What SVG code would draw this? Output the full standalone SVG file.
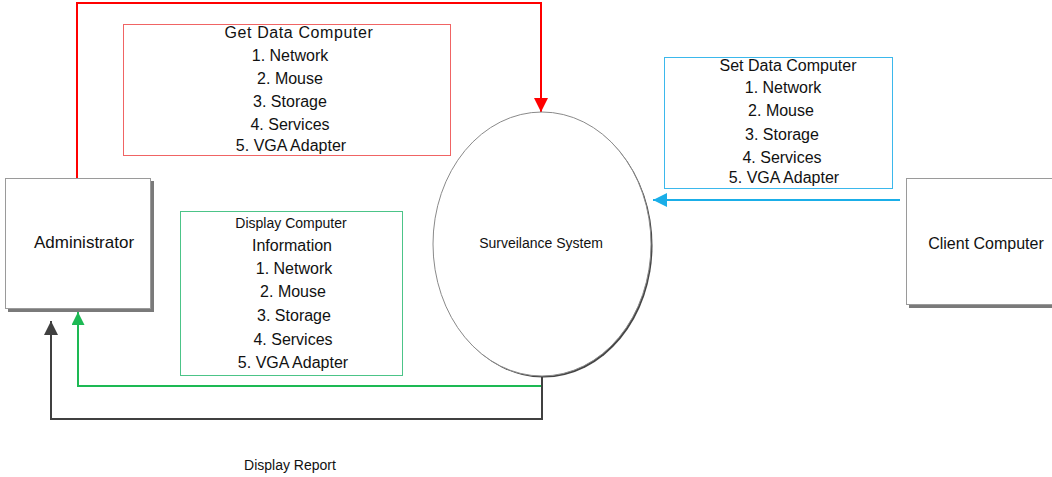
<svg xmlns="http://www.w3.org/2000/svg" width="1052" height="477" viewBox="0 0 1052 477">
<defs>
<style>
text{font-family:"Liberation Sans",Arial,sans-serif;fill:#111;text-anchor:middle;}
.t17{font-size:17px;}
.t16{font-size:16px;}
.t15{font-size:15px;}
.t14{font-size:14px;}
.box{fill:#fff;stroke:#9a9a9a;stroke-width:1;}
.shadow{fill:#7a7a7a;}
.conn{fill:none;stroke-width:2;}
</style>
<marker id="arR" viewBox="0 0 10 10" refX="10" refY="5" markerWidth="14" markerHeight="14" markerUnits="userSpaceOnUse" orient="auto"><path d="M0,0 L10,5 L0,10 z" fill="#ff0000"/></marker>
<marker id="arB" viewBox="0 0 10 10" refX="10" refY="5" markerWidth="14" markerHeight="14" markerUnits="userSpaceOnUse" orient="auto"><path d="M0,0 L10,5 L0,10 z" fill="#1aaee8"/></marker>
<marker id="arG" viewBox="0 0 10 10" refX="10" refY="5" markerWidth="13" markerHeight="13" markerUnits="userSpaceOnUse" orient="auto"><path d="M0,0 L10,5 L0,10 z" fill="#1db954"/></marker>
<marker id="arK" viewBox="0 0 10 10" refX="10" refY="5" markerWidth="14" markerHeight="14" markerUnits="userSpaceOnUse" orient="auto"><path d="M0,0 L10,5 L0,10 z" fill="#404040"/></marker>
</defs>
<rect width="1052" height="477" fill="#fff"/>

<g id="connectors">
<polyline class="conn" stroke="#ff0000" points="77,178 77,3 541,3 541,112" marker-end="url(#arR)"/>
<polyline class="conn" stroke="#1aaee8" stroke-width="2.5" points="900,200 653,200" marker-end="url(#arB)"/>
<polyline class="conn" stroke="#1db954" points="542,386 78,386 78,312" marker-end="url(#arG)"/>
<polyline class="conn" stroke="#404040" points="542,376 542,419 51,419 51,321" marker-end="url(#arK)"/>
</g>

<g id="get-data">
<rect x="123.5" y="24.5" width="327" height="131" fill="none" stroke="#f06464" stroke-width="1"/>
<text class="t16" x="299" y="38" letter-spacing="0.6">Get Data Computer</text>
<text class="t16" x="290" y="61">1. Network</text>
<text class="t16" x="290" y="84">2. Mouse</text>
<text class="t16" x="290" y="107">3. Storage</text>
<text class="t16" x="290" y="130">4. Services</text>
<text class="t16" x="291" y="151">5. VGA Adapter</text>
</g>

<g id="set-data">
<rect x="664.5" y="57.5" width="228" height="131" fill="none" stroke="#3bb8ec" stroke-width="1"/>
<text class="t16" x="788" y="71">Set Data Computer</text>
<text class="t16" x="783" y="93">1. Network</text>
<text class="t16" x="781" y="116">2. Mouse</text>
<text class="t16" x="782" y="140">3. Storage</text>
<text class="t16" x="782" y="163">4. Services</text>
<text class="t16" x="784" y="183">5. VGA Adapter</text>
</g>

<g id="display-info">
<rect x="180.5" y="211.5" width="222" height="164" fill="none" stroke="#4cc488" stroke-width="1"/>
<text class="t14" x="291" y="228">Display Computer</text>
<text class="t16" x="292" y="251">Information</text>
<text class="t16" x="294" y="274">1. Network</text>
<text class="t16" x="293" y="297">2. Mouse</text>
<text class="t16" x="294" y="321">3. Storage</text>
<text class="t16" x="293" y="345">4. Services</text>
<text class="t16" x="293" y="368">5. VGA Adapter</text>
</g>

<g id="administrator">
<rect class="shadow" x="8" y="181" width="146" height="131"/>
<rect class="box" x="5.5" y="178.5" width="145" height="130"/>
<text class="t17" x="84" y="248">Administrator</text>
</g>

<g id="client-computer">
<rect class="shadow" x="909" y="181" width="146" height="127"/>
<rect class="box" x="906.5" y="178.5" width="146" height="126"/>
<text class="t16" x="986" y="249">Client Computer</text>
</g>

<g id="surveilance-system">
<ellipse cx="543.5" cy="245.5" rx="109" ry="132" fill="#444"/>
<ellipse cx="542" cy="244" rx="109" ry="132" fill="#fff" stroke="#8a8a8a" stroke-width="1"/>
<text class="t14" x="541" y="248">Surveilance System</text>
</g>

<g id="display-report-label">
<text class="t14" x="290" y="470">Display Report</text>
</g>
</svg>
